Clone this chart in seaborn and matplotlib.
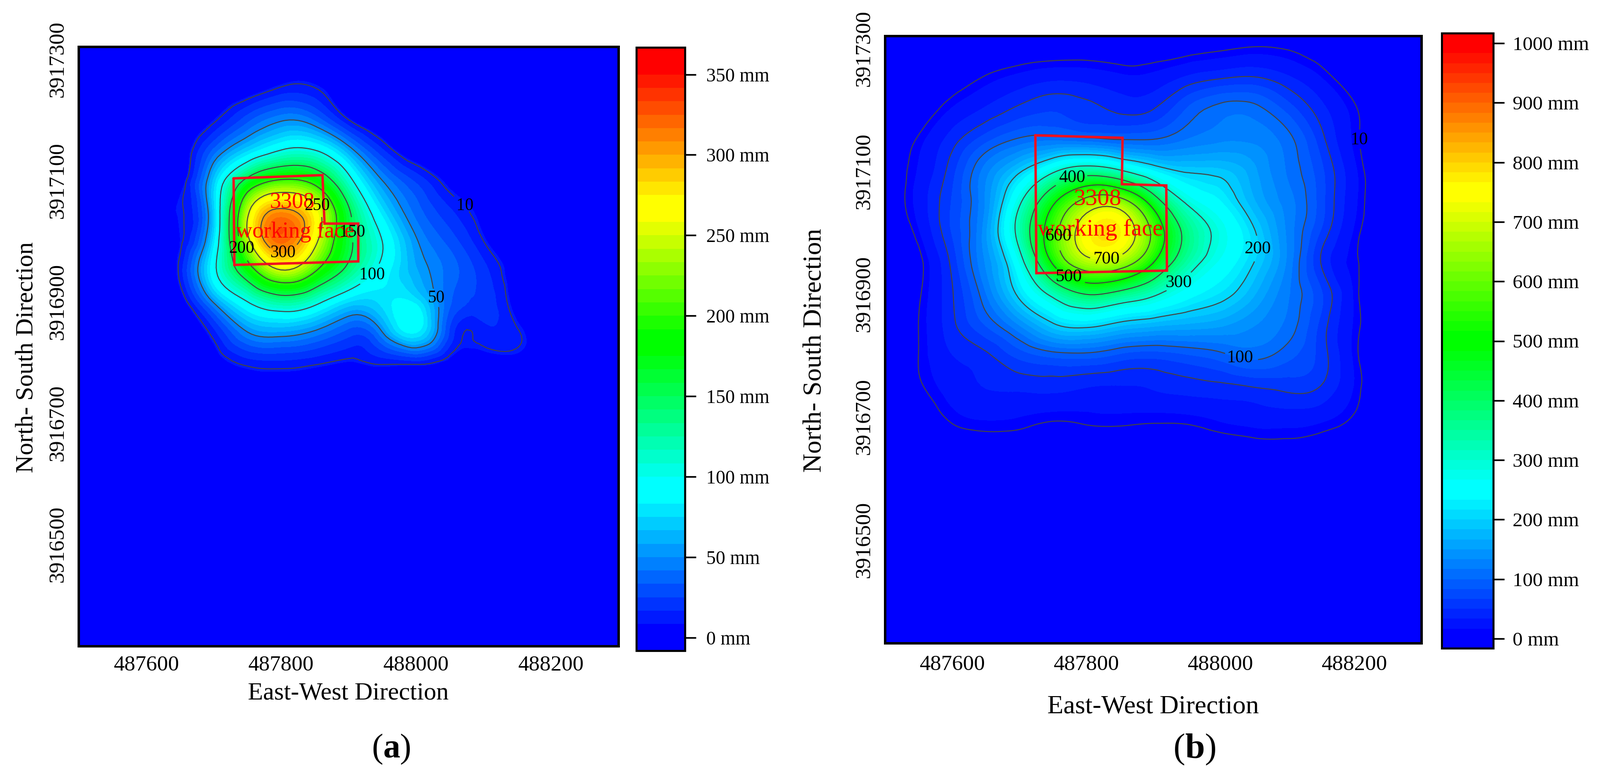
import numpy as np
import matplotlib
matplotlib.use("Agg")
import matplotlib.pyplot as plt
import matplotlib.tri as mtri
import seaborn as sns

# ========================
# Values (mm of subsidence on a 50 m grid)
# ========================
east = [487500, 487550, 487600, 487650, 487700, 487750, 487800, 487850, 487900,
        487950, 488000, 488050, 488100, 488150, 488200, 488250, 488300]
north = [3917350, 3917300, 3917250, 3917200, 3917150, 3917100, 3917050, 3917000,
         3916950, 3916900, 3916850, 3916800, 3916750, 3916700, 3916650, 3916600]

subsidence_a = [
    [0, 0, 0, 0, 0, 0, 0, 0, 0, 0, 0, 0, 0, 0, 0, 0, 0],
    [0, 0, 0, 0, 0, 0, 0, 0, 0, 0, 0, 0, 0, 0, 0, 0, 0],
    [0, 0, 0, 0, 0, 3, 12, 11, 1, 0, 0, 0, 0, 0, 0, 0, 0],
    [0, 0, 0, 0, 8, 30, 48, 40, 10, 0, 0, 0, 0, 0, 0, 0, 0],
    [0, 0, 0, 0, 35, 72, 100, 100, 58, 18, 0, 0, 0, 0, 0, 0, 0],
    [0, 0, 0, 3, 68, 160, 203, 185, 110, 50, 23, 5, 0, 0, 0, 0, 0],
    [0, 0, 0, 9, 70, 240, 305, 265, 155, 78, 38, 18, 5, 0, 0, 0, 0],
    [0, 0, 0, 8, 78, 238, 320, 260, 160, 100, 52, 30, 10, 0, 0, 0, 0],
    [0, 0, 0, 12, 92, 175, 245, 202, 138, 92, 60, 38, 20, 3, 0, 0, 0],
    [0, 0, 0, 3, 52, 100, 128, 110, 76, 78, 80, 35, 22, 4, 0, 0, 0],
    [0, 0, 0, 0, 14, 50, 58, 48, 30, 50, 85, 24, 14, 11, 0, 0, 0],
    [0, 0, 0, 0, 4, 13, 15, 12, 8, 12, 14, 6, 4, 5, 0, 0, 0],
    [0, 0, 0, 0, 0, 1, 2, 1, 0, 1, 2, 0, 0, 0, 0, 0, 0],
    [0, 0, 0, 0, 0, 0, 0, 0, 0, 0, 0, 0, 0, 0, 0, 0, 0],
    [0, 0, 0, 0, 0, 0, 0, 0, 0, 0, 0, 0, 0, 0, 0, 0, 0],
    [0, 0, 0, 0, 0, 0, 0, 0, 0, 0, 0, 0, 0, 0, 0, 0, 0],
]

subsidence_b = [
    [0, 0, 0, 0, 0, 0, 0, 0, 0, 0, 0, 0, 0, 0, 0, 0, 0],
    [0, 0, 0, 0, 1, 2, 3, 2, 3, 5, 8, 11, 9, 3, 0, 0, 0],
    [0, 0, 3, 12, 22, 30, 28, 21, 22, 38, 50, 54, 38, 18, 2, 0, 0],
    [0, 1, 18, 36, 55, 65, 56, 46, 50, 85, 108, 108, 78, 40, 12, 0, 0],
    [0, 12, 42, 78, 105, 115, 110, 102, 102, 118, 130, 130, 108, 58, 14, 0, 0],
    [0, 18, 60, 125, 192, 285, 350, 310, 235, 195, 188, 155, 115, 72, 20, 0, 0],
    [0, 22, 68, 135, 285, 480, 630, 640, 455, 290, 235, 170, 125, 75, 20, 0, 0],
    [0, 15, 68, 145, 325, 560, 750, 770, 580, 375, 280, 205, 130, 65, 15, 0, 0],
    [0, 6, 55, 135, 265, 505, 660, 650, 500, 340, 260, 200, 130, 50, 12, 0, 0],
    [0, 8, 48, 115, 210, 320, 405, 375, 315, 250, 215, 170, 120, 70, 15, 0, 0],
    [0, 10, 45, 85, 135, 195, 215, 190, 175, 165, 155, 135, 112, 62, 15, 0, 0],
    [0, 10, 33, 46, 73, 90, 93, 80, 74, 82, 94, 107, 90, 60, 14, 0, 0],
    [0, 8, 24, 34, 38, 40, 35, 33, 36, 42, 46, 52, 57, 50, 16, 0, 0],
    [0, 1, 13, 19, 17, 13, 14, 15, 14, 15, 20, 24, 26, 22, 9, 0, 0],
    [0, 0, 1, 3, 3, 2, 2, 2, 2, 2, 3, 5, 6, 4, 1, 0, 0],
    [0, 0, 0, 0, 0, 0, 0, 0, 0, 0, 0, 0, 0, 0, 0, 0, 0],
]

contour_levels_a = [10, 50, 100, 150, 200, 250, 300]
contour_levels_b = [10, 50, 100, 200, 300, 400, 500, 600, 700]
cbar_ticks_a = [0, 50, 100, 150, 200, 250, 300, 350]
cbar_ticks_b = [0, 100, 200, 300, 400, 500, 600, 700, 800, 900, 1000]
x_ticks = [487600, 487800, 488000, 488200]
y_ticks = [3916500, 3916700, 3916900, 3917100, 3917300]

face_east_a = [487729.8, 487861.5, 487864.5, 487914.5, 487914.5, 487730.9, 487729.8]
face_north_a = [3917103.3, 3917108.7, 3917028.7, 3917028.7, 3916966.3, 3916960.5, 3917103.3]
face_east_b = [487724.4, 487854.4, 487853.4, 487919.6, 487920.6, 487725.9, 487724.4]
face_north_b = [3917157.9, 3917153.9, 3917078.4, 3917076.3, 3916937.6, 3916933.5, 3917157.9]

# ========================
# Style
# ========================
sns.set_theme(style="white")
plt.rcParams["font.family"] = ["Liberation Serif", "DejaVu Serif"]
plt.rcParams["mathtext.fontset"] = "custom"
plt.rcParams["mathtext.rm"] = "Liberation Serif"
plt.rcParams["mathtext.bf"] = "Liberation Serif:bold"
plt.rcParams["text.color"] = "black"
plt.rcParams["axes.labelcolor"] = "black"
plt.rcParams["xtick.color"] = "black"
plt.rcParams["ytick.color"] = "black"

W, H = 3260, 1593
fig = plt.figure(figsize=(W / 100, H / 100), dpi=100, facecolor="white")

RAINBOW = ["#0000ff", "#00ffff", "#00ff00", "#ffff00", "#ff0000"]


def px_axes(left, top, right, bottom):
    return fig.add_axes([left / W, 1 - bottom / H, (right - left) / W, (bottom - top) / H])


def band_palette(gaps):
    # every rainbow colour takes two bands, the gaps are the bands between them
    colors = []
    for i, gap in enumerate(gaps):
        colors += [RAINBOW[i], RAINBOW[i]]
        colors += list(sns.blend_palette([RAINBOW[i], RAINBOW[i + 1]], n_colors=gap + 2))[1:-1]
    colors += [RAINBOW[-1], RAINBOW[-1]]
    return colors


def draw_panel(box, cbar_box, field, step, gaps, ylim, clevels, cticks, label_spots,
               face_e, face_n, text_spots, sizes, pads):
    ax = px_axes(*box)
    ax.set_facecolor("#0000ff")

    # smooth the read-off grid with matplotlib's own triangulation refiner
    xx, yy = np.meshgrid(east, north)
    tri = mtri.Triangulation(xx.ravel() - east[0], yy.ravel() - north[-1])
    refiner = mtri.UniformTriRefiner(tri)
    fine_tri, fine_z = refiner.refine_field(np.array(field, dtype=float).ravel(), subdiv=3)
    fine_tri = mtri.Triangulation(fine_tri.x + east[0], fine_tri.y + north[-1], fine_tri.triangles)
    fine_z = np.clip(fine_z, 0, None)

    palette = band_palette(gaps)
    levels = [-step + step * i for i in range(len(palette) + 1)]
    cf = ax.tricontourf(fine_tri, fine_z, levels=levels, colors=palette)
    cs = ax.tricontour(fine_tri, fine_z, levels=clevels, colors="#444444", linewidths=1.5)
    labels = ax.clabel(cs, fmt="%d", fontsize=sizes["contour"], colors="black", inline=True,
                       inline_spacing=8, manual=label_spots)
    for t in labels:
        t.set_rotation(0)

    ax.plot(face_e, face_n, color="#f01020", lw=3.6, solid_joinstyle="miter")
    ax.text(*text_spots[0], "3308", color="red", fontsize=sizes["face"], ha="center", va="center")
    ax.text(*text_spots[1], "working face", color="red", fontsize=sizes["face"], ha="center", va="center")

    ax.set_xlim(487500, 488300)
    ax.set_ylim(*ylim)
    ax.set_xticks(x_ticks)
    ax.set_yticks(y_ticks)
    ax.set_yticklabels([str(v) for v in y_ticks], rotation=90, va="center")
    ax.set_xticklabels([str(v) for v in x_ticks])
    ax.tick_params(direction="in", length=10, width=2.4, labelsize=32, color="black", pad=pads["xtick"])
    ax.tick_params(axis="y", pad=16)
    ax.set_xlabel("East-West Direction", fontsize=sizes["label"], labelpad=pads["x"])
    ax.set_ylabel("North- South Direction", fontsize=sizes["label"], labelpad=pads["y"], y=0.482)
    for spine in ax.spines.values():
        spine.set_linewidth(3.6)
        spine.set_color("black")

    cax = px_axes(*cbar_box)
    cb = fig.colorbar(cf, cax=cax, spacing="proportional")
    cb.set_ticks(cticks)
    cb.set_ticklabels([f"{v} mm" for v in cticks])
    cb.ax.tick_params(direction="out", length=16, width=2.4, labelsize=sizes["cbar"],
                      pad=pads["cbar"], color="black")
    cb.outline.set_linewidth(3)
    cb.outline.set_edgecolor("black")
    return ax


draw_panel((160, 95, 1260, 1316), (1297, 97, 1396, 1326), subsidence_a, 25 / 3, [9, 9, 8, 9],
           (3916331.6, 3917320.7), contour_levels_a, cbar_ticks_a,
           [(488073, 3917058), (488030, 3916905), (487939, 3916941), (487912, 3917014),
            (487739, 3916987), (487850, 3917056), (487802, 3916990)],
           face_east_a, face_north_a, [(487817, 3917063), (487821, 3917015)],
           {"contour": 25, "face": 33, "label": 36.5, "cbar": 28},
           {"xtick": 14, "x": 10, "y": 14, "cbar": 15})

draw_panel((1803, 73, 2896, 1310), (2938, 68, 3043, 1321), subsidence_b, 50 / 3, [13, 13, 13, 13],
           (3916331, 3917320), contour_levels_b, cbar_ticks_b,
           [(488202, 3917150), (488030, 3916795), (488067, 3916972), (487937, 3916918),
            (487780, 3917086), (487769, 3916921), (487748, 3916993), (487831, 3916950)],
           face_east_b, face_north_b, [(487817, 3917054), (487821, 3917004)],
           {"contour": 26, "face": 35, "label": 38.5, "cbar": 29.5},
           {"xtick": 17, "x": 30, "y": 41, "cbar": 12})

fig.text(797 / W, 1 - 1526 / H, r"($\mathbf{a}$)", fontsize=50, ha="center", va="center")
fig.text(2434 / W, 1 - 1526 / H, r"($\mathbf{b}$)", fontsize=52, ha="center", va="center")

fig.savefig("out.png", dpi=100)
